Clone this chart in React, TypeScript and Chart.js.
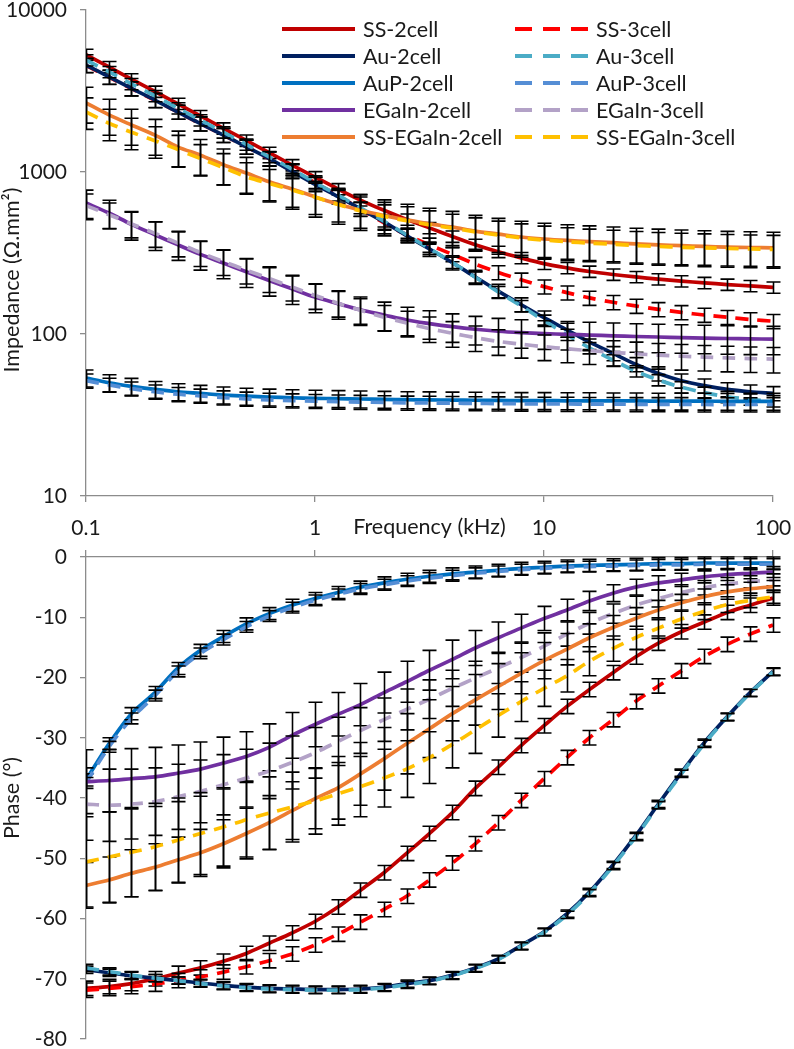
import React, { useEffect, useRef } from 'react';
import { Chart, registerables } from 'chart.js';

Chart.register(...registerables);

// ---------- DATA ----------
const freq = [0.1, 0.126, 0.158, 0.2, 0.251, 0.316, 0.398, 0.501, 0.631, 0.794, 1, 1.26, 1.58, 2, 2.51, 3.16, 3.98, 5.01, 6.31, 7.94, 10, 12.6, 15.8, 20, 25.1, 31.6, 39.8, 50.1, 63.1, 79.4, 100];

const freqTicks = [0.1, 1, 10, 100];
const freqTickLabels = ['0.1', '1', '10', '100'];
const impTicks = [10, 100, 1000, 10000];
const impTickLabels = ['10', '100', '1000', '10000'];
const phaseTicks = [-80, -70, -60, -50, -40, -30, -20, -10, 0];
const phaseTickLabels = ['-80', '-70', '-60', '-50', '-40', '-30', '-20', '-10', '0'];

const seriesNames = ['SS-2cell', 'SS-3cell', 'Au-2cell', 'Au-3cell', 'AuP-2cell', 'AuP-3cell', 'EGaIn-2cell', 'EGaIn-3cell', 'SS-EGaIn-2cell', 'SS-EGaIn-3cell'];
const seriesColors = ['#C00000', '#FF0000', '#002060', '#4BACC6', '#0070C0', '#558ED5', '#7030A0', '#B3A2C7', '#ED7D31', '#FFC000'];
const seriesDashed = [false, true, false, true, false, true, false, true, false, true];

// Impedance (Ω.mm²)
const impSS2 = [5300, 4450, 3740, 3140, 2640, 2220, 1860, 1565, 1315, 1104, 931, 785, 671, 580, 510, 452, 400, 356, 322, 295, 272, 256, 243, 233, 225, 218, 212, 207, 202, 198, 194];
const impSS3 = [4550, 3850, 3270, 2770, 2350, 1990, 1690, 1430, 1210, 1020, 860, 715, 590, 485, 410, 355, 310, 270, 240, 216, 196, 180, 167, 157, 149, 142, 136, 131, 127, 123, 120];
const impAu2 = [4570, 3870, 3280, 2780, 2350, 1990, 1690, 1430, 1210, 1010, 840, 705, 592, 492, 405, 335, 276, 225, 184, 152, 126, 106, 89, 76, 65, 57, 51.5, 48, 45.5, 44, 43];
const impAu3 = [4900, 4150, 3500, 2950, 2480, 2090, 1760, 1480, 1240, 1040, 860, 720, 600, 497, 410, 337, 276, 224, 182, 149, 121, 99, 82, 69, 59, 52, 47, 43.5, 41, 39.5, 38.5];
const impAuP2 = [53.5, 50, 47.5, 45.5, 44, 43, 42, 41.3, 40.8, 40.4, 40.1, 39.9, 39.7, 39.5, 39.3, 39.2, 39.1, 39, 38.9, 38.8, 38.8, 38.7, 38.7, 38.6, 38.6, 38.5, 38.5, 38.5, 38.4, 38.4, 38.4];
const impAuP3 = [51.5, 48.5, 46, 44, 42.5, 41.5, 40.5, 39.8, 39.2, 38.8, 38.5, 38.2, 38, 37.8, 37.6, 37.5, 37.4, 37.3, 37.2, 37.1, 37, 37, 36.9, 36.9, 36.8, 36.8, 36.8, 36.7, 36.7, 36.7, 36.7];
const impEG2 = [644, 558, 475, 410, 356, 310, 274, 242, 214, 190, 169, 154, 141, 131, 122, 116, 111, 107, 104, 102, 100.5, 99.5, 98.5, 97.5, 96.5, 95.8, 95, 94.4, 93.8, 93.3, 93];
const impEG3 = [620, 545, 478, 418, 365, 318, 280, 248, 220, 195, 173, 155, 140, 127, 117, 108, 101, 95, 90, 86.5, 83.5, 81, 79, 77, 75.5, 74, 73, 72, 71.2, 70.5, 70];
const impSSE2 = [2670, 2250, 1950, 1690, 1430, 1270, 1110, 985, 870, 785, 702, 634, 580, 538, 506, 478, 457, 432, 414, 397, 386, 378, 372, 366, 360, 355, 351, 347, 344, 342, 340];
const impSSE3 = [2350, 2000, 1760, 1560, 1380, 1210, 1065, 935, 850, 775, 700, 630, 575, 532, 500, 472, 450, 427, 408, 392, 380, 371, 364, 358, 352, 347, 343, 340, 337, 335, 333];

// Relative error of impedance, per series
const impErrFrac = [0.08, 0.1, 0.1, 0.08, 0.12, 0.1, 0.2, 0.18, 0.25, 0.22];

// Phase (°)
const phSS2 = [-71.6, -71.3, -70.8, -70, -69.1, -68.2, -67.1, -65.8, -64.1, -62.4, -60.5, -58.1, -55.3, -52.4, -49.2, -45.9, -42.4, -38.4, -34.9, -31.3, -28, -24.8, -22, -19.2, -16.6, -14.3, -12.4, -10.8, -9.2, -8, -6.8];
const phSS3 = [-71.9, -71.6, -71.3, -70.9, -70.3, -69.7, -68.9, -68, -67, -65.9, -64.4, -62.6, -60.6, -58.5, -56.3, -53.6, -50.8, -47.6, -44.1, -40.4, -36.8, -33.3, -30, -27, -24, -21.4, -18.9, -16.5, -14.5, -12.8, -11.3];
const phAu2 = [-68.5, -69, -69.5, -69.9, -70.3, -70.7, -71.1, -71.4, -71.6, -71.7, -71.8, -71.8, -71.7, -71.4, -70.8, -70.3, -69.4, -68.2, -66.7, -64.5, -62.2, -59.2, -55.6, -51.1, -46.3, -41, -35.8, -30.8, -26.5, -22.5, -19];
const phAu3 = [-68.2, -68.8, -69.4, -69.9, -70.3, -70.8, -71.2, -71.5, -71.7, -71.8, -71.9, -71.9, -71.8, -71.5, -71, -70.4, -69.5, -68.3, -66.8, -64.6, -62.3, -59.4, -55.8, -51.3, -46.5, -41.2, -36, -31, -26.6, -22.6, -19.1];
const phAuP2 = [-37, -31, -26, -22.5, -18.5, -15.5, -13.2, -11.1, -9.4, -8, -6.9, -5.9, -5.0, -4.3, -3.7, -3.2, -2.8, -2.5, -2.2, -1.9, -1.7, -1.5, -1.4, -1.3, -1.2, -1.1, -1.1, -1, -1, -1, -1];
const phAuP3 = [-37.5, -31.5, -26.8, -23, -19, -16, -13.7, -11.6, -9.8, -8.4, -7.2, -6.2, -5.3, -4.6, -4.0, -3.5, -3.1, -2.7, -2.4, -2.1, -1.9, -1.7, -1.6, -1.5, -1.4, -1.3, -1.3, -1.2, -1.2, -1.2, -1.2];
const phEG2 = [-37.3, -37.1, -36.8, -36.5, -35.9, -35.2, -34.2, -33.1, -31.6, -29.6, -27.8, -26.1, -24.5, -22.5, -20.7, -18.8, -17, -15.1, -13.4, -11.8, -10.2, -8.8, -7.3, -6, -5, -4.3, -3.8, -3.3, -2.9, -2.7, -2.5];
const phEG3 = [-41, -41.2, -41, -40.6, -39.8, -38.9, -37.8, -36.7, -35.5, -34.1, -32.5, -30.6, -28.8, -27, -25.3, -23.6, -21.8, -20.1, -18.4, -16.7, -14.8, -12.8, -11, -9.4, -8, -6.9, -5.9, -5.1, -4.5, -4.1, -3.8];
const phSSE2 = [-54.5, -53.6, -52.5, -51.5, -50.3, -49.1, -47.6, -45.9, -44.1, -42.1, -40.1, -38.3, -36, -33.5, -31, -28.5, -26, -23.7, -21.5, -19.3, -17.2, -15.3, -13.4, -11.7, -10.2, -8.8, -7.6, -6.6, -5.8, -5.3, -4.9];
const phSSE3 = [-50.6, -49.8, -49, -48.1, -47, -45.9, -44.8, -43.6, -42.5, -41.5, -40.5, -39.3, -38.1, -36.7, -35.2, -33.3, -31.1, -28.7, -26.3, -24, -21.8, -19.7, -17.3, -15.2, -13.4, -11.8, -10.3, -9, -7.9, -7.2, -6.6];

// Phase error (±°)
const phErrSS2 = 1.2;
const phErrSS3 = 1.2;
const phErrAu2 = 0.6;
const phErrAu3 = 0.6;
const phErrAuP2 = 1.0;
const phErrAuP3 = 0.9;
const phErrEG2 = [5.3, 5.2, 5.0, 4.9, 4.7, 4.5, 4.3, 4.1, 3.9, 3.8, 3.7, 3.6, 3.5, 3.4, 3.4, 3.3, 3.2, 2.9, 2.6, 2.3, 2.0, 1.8, 1.6, 1.4, 1.3, 1.2, 1.1, 1.0, 1.0, 0.9, 0.9];
const phErrEG3 = [6, 6, 5.8, 5.6, 5.4, 5.2, 5, 4.8, 4.6, 4.4, 4.2, 4.0, 3.8, 3.6, 3.4, 3.2, 3.0, 2.8, 2.6, 2.4, 2.2, 2.0, 1.8, 1.6, 1.5, 1.4, 1.3, 1.2, 1.1, 1.0, 1.0];
const phErrSSE2 = [3.8, 3.8, 3.9, 3.9, 3.8, 3.9, 4, 4.2, 4.5, 4.8, 5, 5.2, 5.2, 5.2, 5, 4.8, 4.5, 4.2, 3.8, 3.4, 3, 2.6, 2.3, 2, 1.8, 1.6, 1.4, 1.3, 1.2, 1.1, 1.0];
const phErrSSE3 = [7.5, 7.5, 7.4, 7.2, 7, 6.8, 6.5, 6.2, 6, 5.8, 5.5, 5.2, 5, 4.8, 4.7, 4.3, 3.9, 3.9, 3.6, 3.3, 3, 2.7, 2.4, 2.1, 1.9, 1.7, 1.5, 1.4, 1.3, 1.2, 1.1];

const impSeries = [impSS2, impSS3, impAu2, impAu3, impAuP2, impAuP3, impEG2, impEG3, impSSE2, impSSE3];
const phSeries = [phSS2, phSS3, phAu2, phAu3, phAuP2, phAuP3, phEG2, phEG3, phSSE2, phSSE3];
const phErrs: (number | number[])[] = [phErrSS2, phErrSS3, phErrAu2, phErrAu3, phErrAuP2, phErrAuP3, phErrEG2, phErrEG3, phErrSSE2, phErrSSE3];

// ---------- STYLE ----------
const FONT = 'Lato, "DejaVu Sans", sans-serif';
const TEXT = '#1a1a1a';
const AXIS = '#8c8c8c';

const errorBarPlugin = {
  id: 'errorBars',
  afterDatasetDraw(chart: any, args: any) {
    const ds = chart.data.datasets[args.index];
    if (!ds.errLo) return;
    const { ctx, chartArea, scales } = chart;
    const xs = scales.x;
    const ys = scales.y;
    const cap = 7;
    ctx.save();
    ctx.beginPath();
    ctx.rect(chartArea.left, 0, chart.width - chartArea.left, chart.height);
    ctx.clip();
    ctx.strokeStyle = '#000';
    ctx.lineWidth = 1.6;
    ctx.beginPath();
    ds.data.forEach((p: any, i: number) => {
      const x = Math.round(xs.getPixelForValue(p.x)) + 0.5;
      const y1 = ys.getPixelForValue(ds.errLo[i]);
      const y2 = ys.getPixelForValue(ds.errHi[i]);
      ctx.moveTo(x, y1);
      ctx.lineTo(x, y2);
      ctx.moveTo(x - cap, y1);
      ctx.lineTo(x + cap, y1);
      ctx.moveTo(x - cap, y2);
      ctx.lineTo(x + cap, y2);
    });
    ctx.stroke();
    ctx.restore();
  },
};

const legendPlugin = {
  id: 'customLegend',
  afterDraw(chart: any) {
    const ctx = chart.ctx;
    ctx.save();
    ctx.font = `21.5px ${FONT}`;
    ctx.textBaseline = 'middle';
    ctx.textAlign = 'left';
    const rowY0 = 29;
    const rowGap = 27;
    const colX = [282, 515];
    const lineLen = 73;
    for (let k = 0; k < 5; k++) {
      for (let c = 0; c < 2; c++) {
        const idx = 2 * k + c;
        const y = rowY0 + k * rowGap;
        const x0 = colX[c];
        ctx.strokeStyle = seriesColors[idx];
        ctx.lineWidth = 4;
        ctx.lineCap = 'butt';
        ctx.setLineDash(seriesDashed[idx] ? [17, 11] : []);
        ctx.beginPath();
        ctx.moveTo(x0, y);
        ctx.lineTo(x0 + lineLen, y);
        ctx.stroke();
        ctx.setLineDash([]);
        ctx.fillStyle = TEXT;
        ctx.fillText(seriesNames[idx], x0 + lineLen + 8, y + 1);
      }
    }
    ctx.restore();
  },
};

function titlePlugin(xTitle: string | null, yTitle: string, yTitleY: number) {
  return {
    id: 'titles',
    afterDraw(chart: any) {
      const ctx = chart.ctx;
      const area = chart.chartArea;
      ctx.save();
      ctx.fillStyle = TEXT;
      ctx.font = `21.5px ${FONT}`;
      ctx.textAlign = 'center';
      ctx.textBaseline = 'middle';
      if (xTitle) {
        ctx.fillText(xTitle, (area.left + area.right) / 2, area.bottom + 31);
      }
      ctx.translate(12, yTitleY);
      ctx.rotate(-Math.PI / 2);
      ctx.fillText(yTitle, 0, 0);
      ctx.restore();
    },
  };
}

function makeDatasets(values: number[][], lo: (k: number, i: number, v: number) => number, hi: (k: number, i: number, v: number) => number) {
  return values.map((vals, k) => ({
    label: seriesNames[k],
    data: vals.map((v, i) => ({ x: freq[i], y: v })),
    borderColor: seriesColors[k],
    backgroundColor: seriesColors[k],
    borderWidth: 3.7,
    borderDash: seriesDashed[k] ? [13, 9] : [],
    borderCapStyle: 'butt',
    pointRadius: 0,
    pointHoverRadius: 0,
    fill: false,
    tension: 0.3,
    order: 9 - k,
    errLo: vals.map((v, i) => lo(k, i, v)),
    errHi: vals.map((v, i) => hi(k, i, v)),
  }));
}

function phErrAt(k: number, i: number) {
  const e = phErrs[k];
  return Array.isArray(e) ? e[i] : e;
}

const tickFont = { family: FONT, size: 21 };

const fitX = (h: number) => (s: any) => {
  s.height = h;
  s.paddingLeft = 0;
  s.paddingRight = 0;
  s.paddingTop = 0;
  s.paddingBottom = 0;
};
const fitY = (w: number) => (s: any) => {
  s.width = w;
  s.paddingLeft = 0;
  s.paddingRight = 0;
  s.paddingTop = 0;
  s.paddingBottom = 0;
};

export default function App() {
  const topRef = useRef<HTMLCanvasElement>(null);
  const botRef = useRef<HTMLCanvasElement>(null);

  useEffect(() => {
    const top = new Chart(topRef.current as HTMLCanvasElement, {
      type: 'line',
      data: {
        datasets: makeDatasets(
          impSeries,
          (k, i, v) => v * (1 - impErrFrac[k]),
          (k, i, v) => v * (1 + impErrFrac[k])
        ) as any,
      },
      options: {
        animation: false,
        responsive: false,
        maintainAspectRatio: false,
        events: [],
        layout: { padding: { top: 10, right: 21, left: 0, bottom: 0 } },
        plugins: { legend: { display: false }, tooltip: { enabled: false } },
        scales: {
          x: {
            type: 'logarithmic',
            position: 'bottom',
            min: 0.1,
            max: 100,
            afterBuildTicks: (s: any) => { s.ticks = freqTicks.map((v) => ({ value: v })); },
            afterFit: fitX(49),
            ticks: {
              autoSkip: false,
              maxRotation: 0,
              padding: 14,
              color: TEXT,
              font: tickFont,
              callback: (v: any) => freqTickLabels[freqTicks.indexOf(Number(v))] ?? '',
            },
            grid: { drawOnChartArea: false, drawTicks: true, tickLength: 6, color: AXIS, lineWidth: 1.3 },
            border: { display: true, color: AXIS, width: 1.3 },
          },
          y: {
            type: 'logarithmic',
            min: 10,
            max: 10000,
            afterBuildTicks: (s: any) => { s.ticks = impTicks.map((v) => ({ value: v })); },
            afterFit: fitY(86),
            ticks: {
              autoSkip: false,
              padding: 13,
              color: TEXT,
              font: tickFont,
              callback: (v: any) => impTickLabels[impTicks.indexOf(Number(v))] ?? '',
            },
            grid: { drawOnChartArea: false, drawTicks: true, tickLength: 6, color: AXIS, lineWidth: 1.3 },
            border: { display: true, color: AXIS, width: 1.3 },
          },
        },
      } as any,
      plugins: [errorBarPlugin, legendPlugin, titlePlugin('Frequency (kHz)', 'Impedance (Ω.mm²)', 280)],
    });

    const bot = new Chart(botRef.current as HTMLCanvasElement, {
      type: 'line',
      data: {
        datasets: makeDatasets(
          phSeries,
          (k, i, v) => v - phErrAt(k, i),
          (k, i, v) => v + phErrAt(k, i)
        ) as any,
      },
      options: {
        animation: false,
        responsive: false,
        maintainAspectRatio: false,
        events: [],
        layout: { padding: { top: 0, right: 21, left: 0, bottom: 10 } },
        plugins: { legend: { display: false }, tooltip: { enabled: false } },
        scales: {
          x: {
            type: 'logarithmic',
            position: 'top',
            min: 0.1,
            max: 100,
            afterBuildTicks: (s: any) => { s.ticks = freqTicks.map((v) => ({ value: v })); },
            afterFit: fitX(12),
            ticks: { display: false },
            grid: { drawOnChartArea: false, drawTicks: true, tickLength: 7, color: AXIS, lineWidth: 1.3 },
            border: { display: true, color: AXIS, width: 1.3 },
          },
          y: {
            type: 'linear',
            min: -80,
            max: 0,
            afterBuildTicks: (s: any) => { s.ticks = phaseTicks.map((v) => ({ value: v })); },
            afterFit: fitY(86),
            ticks: {
              autoSkip: false,
              padding: 13,
              color: TEXT,
              font: tickFont,
              callback: (v: any) => phaseTickLabels[phaseTicks.indexOf(Number(v))] ?? '',
            },
            grid: { drawOnChartArea: false, drawTicks: true, tickLength: 6, color: AXIS, lineWidth: 1.3 },
            border: { display: true, color: AXIS, width: 1.3 },
          },
        },
      } as any,
      plugins: [errorBarPlugin, titlePlugin(null, 'Phase (°)', 253)],
    });

    return () => {
      top.destroy();
      bot.destroy();
    };
  }, []);

  return (
    <div style={{ position: 'absolute', left: 0, top: 0, width: 794, height: 1049, background: '#fff' }}>
      <canvas ref={topRef} width={794} height={545} style={{ position: 'absolute', left: 0, top: 0, width: 794, height: 545 }} />
      <canvas ref={botRef} width={794} height={504} style={{ position: 'absolute', left: 0, top: 545, width: 794, height: 504 }} />
    </div>
  );
}
